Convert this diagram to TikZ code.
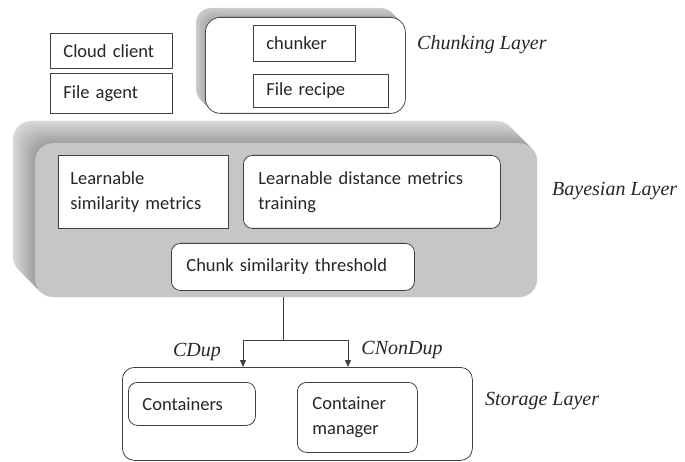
\documentclass[tikz,border=0pt]{standalone}
\usepackage{fontspec}
\setmainfont{Carlito}
\newfontfamily\layerfont{Liberation Serif}
\usetikzlibrary{arrows.meta,positioning}

\tikzset{
  box/.style={draw=black!75, line width=0.8pt, fill=white, anchor=north west,
    inner xsep=13pt, inner ysep=0pt, align=left, text=black!85,
    font=\fontsize{18.5}{25}\selectfont},
  roundbox/.style={box, rounded corners=9pt},
  layerlabel/.style={anchor=west, inner sep=0pt, text=black!85,
    font=\layerfont\itshape\fontsize{20}{24}\selectfont},
  link/.style={draw=black!75, line width=0.8pt},
  flow/.style={link, -{Triangle[length=7pt,width=6pt]}},
}

\begin{document}
\begin{tikzpicture}[x=1pt, y=-1pt]
  \useasboundingbox (0,0) rectangle (685,462);

  % chunking layer (bevelled frame)
  \foreach \t in {0,0.1,...,1.0}{
    \pgfmathsetmacro\shade{40+25*\t}
    \fill[gray!\shade, rounded corners=15pt, shift={(9*\t,9*\t)}] (196,8) rectangle (396,104);
  }
  \node[draw=black!70, line width=0.8pt, fill=white, rounded corners=15pt, anchor=north west,
    minimum width=200pt, minimum height=96pt, inner sep=0pt] (chunking) at (205,17) {};
  \node[box, minimum width=102pt, minimum height=36pt, text width=76pt] (chunker) at (253,25) {chunker};
  \node[box, minimum width=135pt, minimum height=33pt, text width=109pt] (recipe) at (253,74) {File recipe};
  \node[layerlabel] (chunklabel) at (417,45) {Chunking Layer};

  % client side
  \node[box, minimum width=122pt, minimum height=35pt, text width=96pt] (client) at (50,33) {Cloud client};
  \node[box, minimum width=122pt, minimum height=40pt, text width=96pt] (agent) at (50,73) {File agent};

  % bayesian layer (bevelled block)
  \foreach \t in {0,0.05,...,1.0}{
    \pgfmathsetmacro\shade{30+45*\t}
    \fill[gray!\shade, rounded corners=18pt, shift={(22*\t,22*\t)}] (13,121) rectangle (515,275);
  }
  \node[fill=gray!45, rounded corners=18pt, anchor=north west,
    minimum width=502pt, minimum height=154pt, inner sep=0pt] (bayes) at (35,143) {};
  \node[box, inner xsep=12pt, minimum width=170pt, minimum height=73pt, text width=146pt] (simmetric) at (58,155)
    {Learnable\\similarity metrics};
  \node[roundbox, inner xsep=15pt, minimum width=257pt, minimum height=73pt, text width=227pt] (disttrain) at (243,155)
    {Learnable distance metrics\\training};
  \node[roundbox, inner xsep=15pt, minimum width=243pt, minimum height=47pt, text width=213pt] (threshold) at (171,243)
    {Chunk similarity threshold};
  \node[layerlabel] (bayeslabel) at (552,191) {Bayesian Layer};

  % storage layer
  \node[draw=black!75, line width=0.8pt, rounded corners=12pt, anchor=north west,
    minimum width=350pt, minimum height=93pt, inner sep=0pt] (storage) at (122,367) {};
  \node[roundbox, inner xsep=14pt, minimum width=127pt, minimum height=43pt, text width=99pt] (containers) at (128,382) {Containers};
  \node[roundbox, inner xsep=15pt, minimum width=120pt, minimum height=70pt, text width=90pt] (manager) at (297,382)
    {Container\\manager};
  \node[layerlabel] (storelabel) at (485,401) {Storage Layer};

  % routing of chunks
  \coordinate (split) at (283,340);
  \coordinate (dupin) at (243,367);
  \coordinate (nondupin) at (348,367);
  \draw[link] (split |- bayes.south) -- (split);
  \draw[flow] (split) -| (dupin);
  \draw[flow] (split) -| (nondupin);
  \node[layerlabel, anchor=center] (cdup) at (197,352) {CDup};
  \node[layerlabel, anchor=center] (cnondup) at (402,350) {CNonDup};
\end{tikzpicture}
\end{document}
